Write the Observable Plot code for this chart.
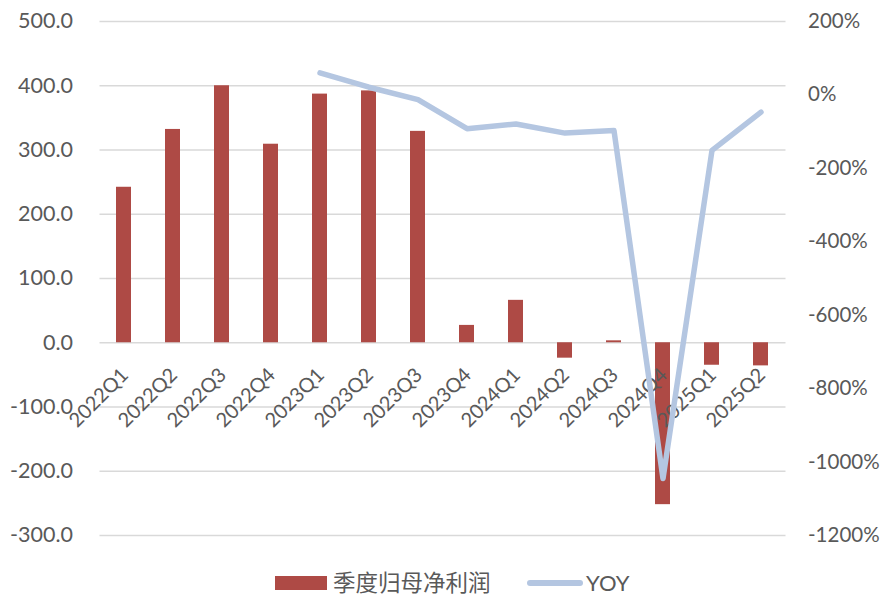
<!DOCTYPE html>
<html>
<head>
<meta charset="utf-8">
<script src="https://cdn.jsdelivr.net/npm/d3@7"></script>
<script src="https://cdn.jsdelivr.net/npm/@observablehq/plot@0.6"></script>
<style>
  html, body { margin: 0; padding: 0; background: #fff; }
  #wrap { position: relative; width: 881px; height: 598px; font-family: Lato, "Noto Sans CJK SC", sans-serif; }
  #legend { position: absolute; left: 0; top: 560px; width: 881px; height: 38px; }
  .sw { position: absolute; }
  .lt { position: absolute; color: #595959; font-size: 22px; line-height: normal; white-space: nowrap; }
</style>
</head>
<body>
<div id="wrap">
  <div id="chart"></div>
  <div id="legend">
    <div class="sw" style="left:275px; top:16px; width:52px; height:14px; background:#ae4a45;"></div>
    <div class="lt" style="left:333px; top:5px; font-family:'Noto Sans CJK SC'; font-size:22.5px;">季度归母净利润</div>
    <div class="sw" style="left:527px; top:20px; width:56px; height:6px; border-radius:3px; background:#b4c6e1;"></div>
    <div class="lt" style="left:586px; top:9px;">YOY</div>
  </div>
</div>
<script>
const categories = ["2022Q1","2022Q2","2022Q3","2022Q4","2023Q1","2023Q2","2023Q3","2023Q4","2024Q1","2024Q2","2024Q3","2024Q4","2025Q1","2025Q2"];
const profit = [242, 332, 400, 309, 387, 392, 329, 27, 66, -24, 3, -252, -35, -36];
const yoy = [null, null, null, null, 60, 21, -13, -92, -79, -104, -97, -1045, -151, -47];
const leftTicks = [500, 400, 300, 200, 100, 0, -100, -200, -300];
const rightTicks = [200, 0, -200, -400, -600, -800, -1000, -1200];

// map right-axis (%) values onto the left scale: 200% -> 500, -1200% -> -300
const toLeft = p => 500 + (p - 200) * (800 / 1400);
const toRight = v => 200 + (v - 500) * (1400 / 800);

const rows = categories.map((c, i) => ({cat: c, profit: profit[i], yoy: yoy[i] == null ? null : toLeft(yoy[i])}));

const chart = Plot.plot({
  width: 881,
  height: 560,
  marginLeft: 99.5,
  marginRight: 95.5,
  marginTop: 21,
  marginBottom: 25,
  style: {fontFamily: "Lato, sans-serif", color: "#595959", background: "#fff"},
  x: {domain: categories, paddingInner: 0.684, paddingOuter: 0.342, axis: null},
  y: {domain: [-300, 500], axis: null},
  marks: [
    Plot.gridY(leftTicks, {stroke: "#d9d9d9", strokeOpacity: 1, strokeWidth: 1.3}),
    Plot.axisY(leftTicks, {anchor: "left", tickSize: 0, tickPadding: 27, fontSize: 21.5, fill: "#595959", tickFormat: v => v.toFixed(1)}),
    Plot.axisY(rightTicks.map(toLeft), {anchor: "right", tickSize: 0, tickPadding: 22, fontSize: 20.5, fill: "#595959", tickFormat: v => `${Math.round(toRight(v))}%`}),
    Plot.barY(rows, {x: "cat", y: "profit", fill: "#ae4a45"}),
    Plot.text(rows, {x: "cat", y: () => 0, text: "cat", rotate: -45, textAnchor: "end", dx: 1, dy: 29, fontSize: 20, fill: "#595959"}),
    Plot.line(rows, {x: "cat", y: "yoy", stroke: "#b4c6e1", strokeWidth: 5.5, strokeLinejoin: "round", strokeLinecap: "round"})
  ]
});
document.getElementById("chart").appendChild(chart);
</script>
</body>
</html>
